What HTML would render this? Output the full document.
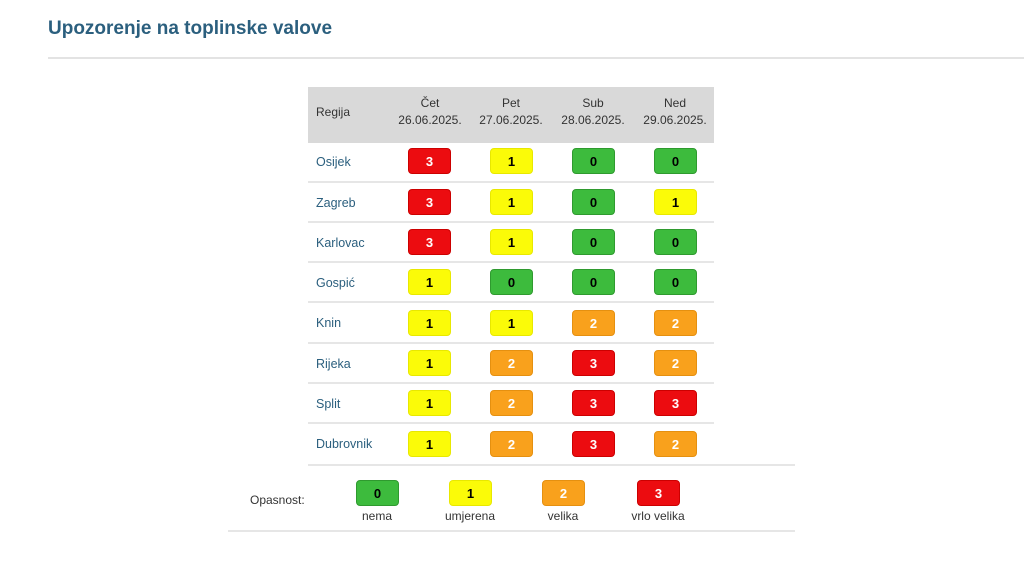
<!DOCTYPE html>
<html><head><meta charset="utf-8"><style>
body{margin:0;width:1024px;height:567px;background:#fff;position:relative;overflow:hidden;font-family:"Liberation Sans","DejaVu Sans",sans-serif}
.a{position:absolute}
.t{left:48px;top:18px;font-size:19px;font-weight:bold;color:#2b5f7e}
.hl{left:48px;top:57px;width:976px;height:2px;background:#e3e3e3}
.hd{left:308px;top:87px;width:406px;height:56px;background:#d9d9d9}
.hc{position:absolute;top:95px;width:82px;text-align:center;font-size:12px;line-height:17px;color:#333}
.rn{position:absolute;left:316px;font-size:12.5px;color:#2b5f7e;line-height:20px}
.b{position:absolute;width:43px;height:26px;border-radius:4px;text-align:center;line-height:26px;font-size:13px;font-weight:bold;box-sizing:border-box}
.r{background:#ec0c10;color:#fff;border:1px solid #c00}
.y{background:#fbfb08;color:#000;border:1px solid #e8e800}
.g{background:#3dbb3d;color:#000;border:1px solid #2f9a2f}
.o{background:#f9a11c;color:#fff;border:1px solid #e59010}
.sl{position:absolute;height:2px;background:#e6e6e6}
.lg{position:absolute;font-size:12px;color:#333;text-align:center;width:90px}
</style></head><body>
<div class="a t">Upozorenje na toplinske valove</div>
<div class="a hl"></div>
<div class="a hd"></div>
<div class="hc" style="left:308px;width:60px;top:104px;text-align:left;padding-left:8px">Regija</div>
<div class="hc" style="left:389px">Čet<br>26.06.2025.</div>
<div class="hc" style="left:470px">Pet<br>27.06.2025.</div>
<div class="hc" style="left:552px">Sub<br>28.06.2025.</div>
<div class="hc" style="left:634px">Ned<br>29.06.2025.</div>

<div class="rn" style="top:152px">Osijek</div>
<div class="b r" style="left:408px;top:148px">3</div><div class="b y" style="left:490px;top:148px">1</div><div class="b g" style="left:572px;top:148px">0</div><div class="b g" style="left:654px;top:148px">0</div>
<div class="sl" style="left:308px;top:181px;width:406px"></div>

<div class="rn" style="top:193px">Zagreb</div>
<div class="b r" style="left:408px;top:189px">3</div><div class="b y" style="left:490px;top:189px">1</div><div class="b g" style="left:572px;top:189px">0</div><div class="b y" style="left:654px;top:189px">1</div>
<div class="sl" style="left:308px;top:221px;width:406px"></div>

<div class="rn" style="top:233px">Karlovac</div>
<div class="b r" style="left:408px;top:229px">3</div><div class="b y" style="left:490px;top:229px">1</div><div class="b g" style="left:572px;top:229px">0</div><div class="b g" style="left:654px;top:229px">0</div>
<div class="sl" style="left:308px;top:261px;width:406px"></div>

<div class="rn" style="top:273px">Gospić</div>
<div class="b y" style="left:408px;top:269px">1</div><div class="b g" style="left:490px;top:269px">0</div><div class="b g" style="left:572px;top:269px">0</div><div class="b g" style="left:654px;top:269px">0</div>
<div class="sl" style="left:308px;top:301px;width:406px"></div>

<div class="rn" style="top:313px">Knin</div>
<div class="b y" style="left:408px;top:310px">1</div><div class="b y" style="left:490px;top:310px">1</div><div class="b o" style="left:572px;top:310px">2</div><div class="b o" style="left:654px;top:310px">2</div>
<div class="sl" style="left:308px;top:342px;width:406px"></div>

<div class="rn" style="top:354px">Rijeka</div>
<div class="b y" style="left:408px;top:350px">1</div><div class="b o" style="left:490px;top:350px">2</div><div class="b r" style="left:572px;top:350px">3</div><div class="b o" style="left:654px;top:350px">2</div>
<div class="sl" style="left:308px;top:382px;width:406px"></div>

<div class="rn" style="top:394px">Split</div>
<div class="b y" style="left:408px;top:390px">1</div><div class="b o" style="left:490px;top:390px">2</div><div class="b r" style="left:572px;top:390px">3</div><div class="b r" style="left:654px;top:390px">3</div>
<div class="sl" style="left:308px;top:422px;width:406px"></div>

<div class="rn" style="top:434px">Dubrovnik</div>
<div class="b y" style="left:408px;top:431px">1</div><div class="b o" style="left:490px;top:431px">2</div><div class="b r" style="left:572px;top:431px">3</div><div class="b o" style="left:654px;top:431px">2</div>
<div class="sl" style="left:308px;top:464px;width:487px"></div>

<div class="lg" style="left:236px;top:493px;width:80px;text-align:left;padding-left:14px">Opasnost:</div>
<div class="b g" style="left:356px;top:480px">0</div>
<div class="b y" style="left:449px;top:480px">1</div>
<div class="b o" style="left:542px;top:480px">2</div>
<div class="b r" style="left:637px;top:480px">3</div>
<div class="lg" style="left:332px;top:509px">nema</div>
<div class="lg" style="left:425px;top:509px">umjerena</div>
<div class="lg" style="left:518px;top:509px">velika</div>
<div class="lg" style="left:613px;top:509px">vrlo velika</div>
<div class="sl" style="left:228px;top:530px;width:567px"></div>
</body></html>
